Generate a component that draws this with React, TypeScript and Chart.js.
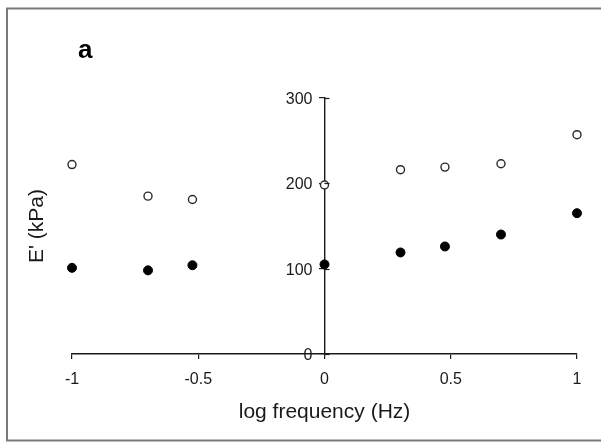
import React, { useEffect, useRef } from "react";
import { Chart, registerables } from "chart.js";

Chart.register(...registerables);

const logFrequency = [-1, -0.699, -0.523, 0, 0.301, 0.477, 0.699, 1];
const openSeries = [222, 185, 181, 198, 216, 219, 223, 257];
const filledSeries = [101, 98, 104, 105, 119, 126, 140, 165];
const xTickValues = [-1, -0.5, 0, 0.5, 1];
const yTickValues = [0, 100, 200, 300];
const panelLabel = "a";
const xTitle = "log frequency (Hz)";
const yTitle = "E' (kPa)";

const FONT = "'Liberation Sans', Arial, Helvetica, sans-serif";
const INK = "#1a1a1a";

const decorPlugin = {
  id: "decor",
  afterDraw(chart: any) {
    const ctx = chart.ctx;
    const { x, y } = chart.scales;
    ctx.save();
    // frame
    ctx.strokeStyle = "#7a7a7a";
    ctx.lineWidth = 2;
    ctx.strokeRect(7, 8.5, 620, 432);
    // inner half of y ticks (crossing ticks) and y tick labels
    ctx.strokeStyle = INK;
    ctx.lineWidth = 1.2;
    const x0 = x.getPixelForValue(0);
    ctx.font = `16px ${FONT}`;
    ctx.fillStyle = INK;
    ctx.textAlign = "right";
    ctx.textBaseline = "middle";
    yTickValues.forEach((v) => {
      const py = Math.round(y.getPixelForValue(v)) + 0.5;
      ctx.beginPath();
      ctx.moveTo(x0, py);
      ctx.lineTo(x0 + 5, py);
      ctx.stroke();
      ctx.fillText(String(v), x0 - 12, py + 1);
    });
    // panel label
    ctx.fillStyle = "#000";
    ctx.font = `bold 26px ${FONT}`;
    ctx.textAlign = "left";
    ctx.textBaseline = "alphabetic";
    ctx.fillText(panelLabel, 78, 58);
    // x title
    ctx.font = `21px ${FONT}`;
    ctx.fillStyle = INK;
    ctx.textAlign = "center";
    ctx.textBaseline = "middle";
    ctx.fillText(xTitle, x0, 412);
    // y title
    ctx.save();
    ctx.translate(37, 226);
    ctx.rotate(-Math.PI / 2);
    ctx.fillText(yTitle, 0, 0);
    ctx.restore();
    ctx.restore();
  },
};

export default function App() {
  const ref = useRef<HTMLCanvasElement | null>(null);
  useEffect(() => {
    if (!ref.current) return;
    const chart = new Chart(ref.current, {
      type: "scatter",
      data: {
        datasets: [
          {
            label: "open",
            data: logFrequency.map((f, i) => ({ x: f, y: openSeries[i] })),
            clip: false,
            pointStyle: "circle",
            pointRadius: 4,
            pointBorderWidth: 1.4,
            pointBorderColor: "#2a2a2a",
            pointBackgroundColor: "#ffffff",
          },
          {
            label: "filled",
            data: logFrequency.map((f, i) => ({ x: f, y: filledSeries[i] })),
            clip: false,
            pointStyle: "circle",
            pointRadius: 4.5,
            pointBorderWidth: 1,
            pointBorderColor: "#000",
            pointBackgroundColor: "#000",
          },
        ],
      },
      options: {
        animation: false,
        responsive: false,
        maintainAspectRatio: false,
        layout: { padding: { left: 72, right: 24, top: 98, bottom: 31 } },
        plugins: { legend: { display: false }, tooltip: { enabled: false } },
        scales: {
          x: {
            type: "linear",
            min: -1,
            max: 1,
            afterFit: (s: any) => {
              s.height = 60;
            },
            afterBuildTicks: (s: any) => {
              s.ticks = xTickValues.map((v) => ({ value: v }));
            },
            ticks: {
              font: { family: FONT, size: 16 },
              color: INK,
              padding: 11,
              maxRotation: 0,
              callback: (v: any) => String(v),
            },
            grid: {
              display: true,
              drawOnChartArea: false,
              drawTicks: true,
              tickLength: 5,
              color: INK,
              lineWidth: 1.2,
            },
            border: { display: true, color: INK, width: 1.4 },
          },
          y: {
            type: "linear",
            position: { x: 0 } as any,
            min: 0,
            max: 300,
            afterBuildTicks: (s: any) => {
              s.ticks = yTickValues.map((v) => ({ value: v }));
            },
            ticks: {
              display: false,
              font: { family: FONT, size: 16 },
              color: INK,
            },
            grid: {
              display: true,
              drawOnChartArea: false,
              drawTicks: true,
              tickLength: 5,
              color: INK,
              lineWidth: 1.2,
            },
            border: { display: true, color: INK, width: 1.4 },
          },
        },
      },
      plugins: [decorPlugin],
    });
    return () => chart.destroy();
  }, []);
  return (
    <div style={{ position: "absolute", left: 0, top: 0, width: 601, height: 445, background: "#fff" }}>
      <canvas ref={ref} width={601} height={445} style={{ display: "block", width: 601, height: 445 }} />
    </div>
  );
}
